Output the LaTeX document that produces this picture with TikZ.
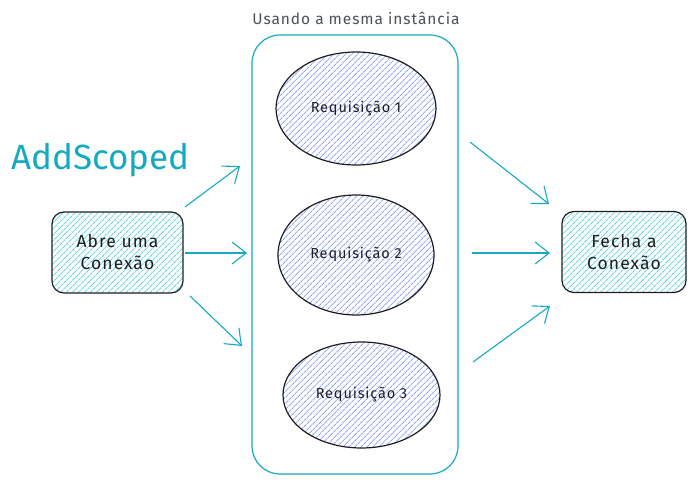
\documentclass[tikz,border=0pt]{standalone}
\usepackage{fontspec}
\setmainfont{Fira Sans}[LetterSpace=6]
\newfontfamily\addfont{Fira Sans}
\usetikzlibrary{arrows.meta,patterns.meta,shapes.geometric}
\definecolor{teal1}{HTML}{15AABF}
\definecolor{tealfill}{HTML}{66D9E8}
\definecolor{bluefill}{HTML}{91A7FF}
\definecolor{ink}{HTML}{1E1E1E}
\definecolor{graytxt}{HTML}{495057}
\begin{document}
\begin{tikzpicture}[x=1pt,y=-1pt,
  conbox/.style={draw=ink,line width=1.2pt,rounded corners=12pt,
    pattern={Lines[angle=45,distance=4pt,line width=0.9pt]},pattern color=tealfill,
    minimum width=#1,minimum height=81pt,align=center,font=\fontsize{17.5}{22}\selectfont,text=ink},
  reqell/.style={ellipse,draw=ink,line width=1.2pt,
    pattern={Lines[angle=45,distance=4pt,line width=0.9pt]},pattern color=bluefill,
    inner sep=0pt,font=\fontsize{14.5}{16}\selectfont,text=ink},
  arr/.style={draw=teal1,line width=1.1pt,-{Straight Barb[length=14pt,width=22pt,line width=1.1pt]}}
]
\useasboundingbox (0,0) rectangle (696,484);
% container
\node[draw=teal1,line width=1.2pt,rounded corners=28pt,minimum width=206pt,minimum height=439pt,inner sep=0pt] (cont) at (355,254.5) {};
\node[text=graytxt,font=\fontsize{15.5}{17}\selectfont] (lbl) at (356,18) {Usando a mesma instância};
% boxes
\node[conbox=131pt] (abre) at (117.5,252.5) {Abre uma\\Conexão};
\node[conbox=124pt] (fecha) at (624,252) {Fecha a\\Conexão};
% ellipses
\node[reqell,minimum width=160pt,minimum height=113pt] (r1) at (356,108.5) {Requisição 1};
\node[reqell,minimum width=156pt,minimum height=120pt] (r2) at (356,255) {Requisição 2};
\node[reqell,minimum width=157pt,minimum height=106pt] (r3) at (361.5,395) {Requisição 3};
% AddScoped
\node[text=teal1,font=\addfont\fontsize{35}{40}\selectfont,anchor=west,inner sep=0pt] (add) at (11,160) {AddScoped};
% arrows
\coordinate (a1s) at (185,207); \coordinate (a1e) at (240,166);
\coordinate (a2s) at (185,253); \coordinate (a2e) at (247,253);
\coordinate (a3s) at (190,296); \coordinate (a3e) at (242,346);
\coordinate (b1s) at (470,142); \coordinate (b1e) at (549,204);
\coordinate (b2s) at (472,253); \coordinate (b2e) at (550,253);
\coordinate (b3s) at (473,362); \coordinate (b3e) at (550,306);
\draw[arr] (a1s) -- (a1e);
\draw[arr] (a2s) -- (a2e);
\draw[arr] (a3s) -- (a3e);
\draw[arr] (b1s) -- (b1e);
\draw[arr] (b2s) -- (b2e);
\draw[arr] (b3s) -- (b3e);
\end{tikzpicture}
\end{document}
